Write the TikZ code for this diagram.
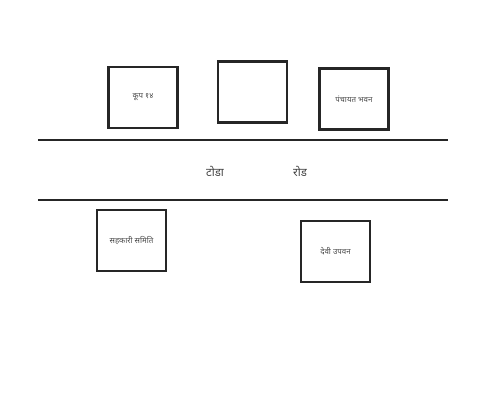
\documentclass[tikz,border=0pt]{standalone}
\usepackage{fontspec}
\newfontfamily\devfont[Script=Devanagari]{Noto Sans}
\usepackage{xcolor}
\usepackage{tikz}
\usetikzlibrary{positioning}

\begin{document}
\begin{tikzpicture}[
    building/.style={rectangle, draw=black!85, line width=1.4pt, fill=white,
                     minimum width=1.38cm, minimum height=1.22cm,
                     font=\devfont\fontsize{4.5}{5}\selectfont, text=black!70},
    roadline/.style={draw=black!85, line width=1.4pt},
    roadname/.style={font=\devfont\fontsize{6.5}{7}\selectfont, text=black!75},
]
\useasboundingbox (0,0) rectangle (9.86,8.10);

% road (middle)
\coordinate (rtl) at (0.76, 5.30);
\coordinate (rtr) at (8.96, 5.30);
\coordinate (rbl) at (0.76, 4.10);
\coordinate (rbr) at (8.96, 4.10);
\draw[roadline] (rtl) -- (rtr);
\draw[roadline] (rbl) -- (rbr);
\node[roadname] (rdleft) at (4.30, 4.68) {टोडा};
\node[roadname] (rdright) at (6.00, 4.68) {रोड};

% buildings above the road
\node[building] (kup) at (2.86, 6.15) {कूप १४};
\node[building] (blank) at (5.05, 6.26) {};
\node[building] (panchayat) at (7.08, 6.12) {पंचायत भवन};

% buildings below the road
\node[building] (samiti) at (2.63, 3.29) {सहकारी समिति};
\node[building] (upvan) at (6.71, 3.07) {देवी उपवन};
\end{tikzpicture}
\end{document}
